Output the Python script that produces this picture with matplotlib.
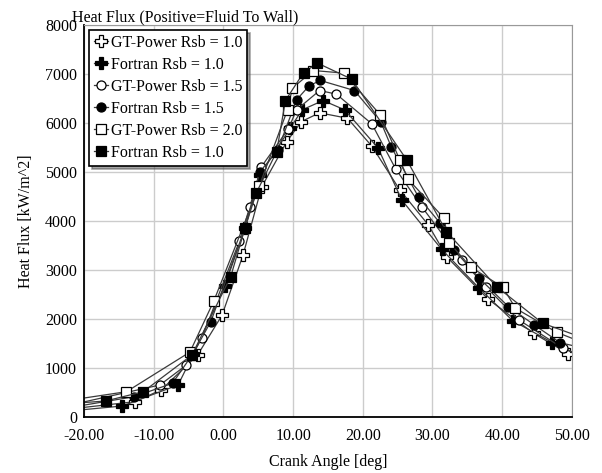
import matplotlib
matplotlib.use("Agg")
import matplotlib.pyplot as plt
import numpy as np

plt.rcParams['font.family'] = ['Liberation Serif', 'DejaVu Serif']

# crank angle [deg] / heat flux [kW/m^2]
gt10_x = [-22, -12.7, -8.9, -3.7, -0.2, 2.8, 5.5, 9.1, 11.2, 13.8, 17.8, 21.3, 25.3, 29.4, 32.1, 38.0, 44.5, 49.5, 52]
gt10_y = [170, 318, 560, 1271, 2080, 3300, 4700, 5625, 6033, 6210, 6100, 5530, 4640, 3924, 3265, 2408, 1714, 1292, 1100]

ft10_x = [-22, -14.5, -6.5, -4.3, 0.2, 3.1, 5.3, 9.6, 11.3, 14.3, 17.4, 22.2, 25.6, 31.3, 36.7, 41.5, 47.2, 52]
ft10_y = [130, 230, 659, 1290, 2680, 3857, 4950, 5900, 6271, 6461, 6271, 5490, 4430, 3428, 2633, 1971, 1522, 1200]

gt15_x = [-22, -9.1, -5.3, -3.1, 2.3, 3.8, 5.4, 9.3, 10.5, 13.8, 16.2, 21.3, 24.7, 28.5, 34.2, 37.7, 42.4, 48.7, 52]
gt15_y = [250, 659, 1067, 1612, 3590, 4298, 5100, 5878, 6271, 6665, 6592, 5985, 5070, 4286, 3210, 2653, 1986, 1408, 1200]

ft15_x = [-22, -12.8, -7.3, -4.4, -1.8, 3.1, 5.2, 7.8, 10.5, 12.3, 13.9, 18.8, 22.6, 24.1, 28.0, 31.1, 33.1, 36.7, 40.9, 44.6, 48.3, 52]
ft15_y = [200, 420, 693, 1290, 1951, 3857, 5000, 5450, 6476, 6761, 6870, 6665, 6020, 5510, 4490, 3959, 3414, 2837, 2257, 1884, 1522, 1400]

gt20_x = [-22, -13.9, -4.8, -1.35, 5.15, 9.2, 9.9, 12.9, 17.3, 22.5, 25.3, 26.5, 31.6, 32.4, 35.5, 40.1, 41.9, 47.8, 52]
gt20_y = [350, 522, 1330, 2380, 4720, 6271, 6714, 7073, 7020, 6169, 5251, 4857, 4070, 3563, 3061, 2653, 2224, 1735, 1500]

ft20_x = [-22, -16.9, -11.5, -4.5, 1.05, 3.1, 4.7, 7.65, 8.9, 11.5, 13.5, 18.4, 26.3, 32.0, 39.2, 45.8, 52]
ft20_y = [280, 332, 522, 1271, 2870, 3857, 4571, 5420, 6461, 7030, 7224, 6898, 5251, 3788, 2665, 1918, 1600]

series = [
    ("GT-Power Rsb = 1.0", gt10_x, gt10_y, 'P', 'white'),
    ("Fortran Rsb = 1.0", ft10_x, ft10_y, 'P', 'black'),
    ("GT-Power Rsb = 1.5", gt15_x, gt15_y, 'o', 'white'),
    ("Fortran Rsb = 1.5", ft15_x, ft15_y, 'o', 'black'),
    ("GT-Power Rsb = 2.0", gt20_x, gt20_y, 's', 'white'),
    ("Fortran Rsb = 1.0", ft20_x, ft20_y, 's', 'black'),
]

fig = plt.figure(figsize=(6.02, 4.73), dpi=100)
ax = fig.add_axes([0.1395, 0.1178, 0.8105, 0.8292])

for name, xs, ys, mk, fc in series:
    ax.plot(xs, ys, color='#3a3a3a', lw=0.9, marker=mk, markersize=8 if mk == 'P' else 6.5,
            markerfacecolor=fc, markeredgecolor='black', markeredgewidth=0.9, label=name)

ax.set_xlim(-20, 50)
ax.set_ylim(0, 8000)
ax.set_xticks(np.arange(-20, 51, 10))
ax.set_xticklabels(["%.2f" % v for v in np.arange(-20, 51, 10)])
ax.set_yticks(np.arange(0, 8001, 1000))
ax.grid(True, color='#cccccc', lw=1.0)
ax.set_axisbelow(True)
ax.tick_params(length=0, labelsize=11.5)
ax.tick_params(axis='x', pad=8)
ax.tick_params(axis='y', pad=5)
for s in ['top', 'right']:
    ax.spines[s].set_color('#999999')
for s in ['left', 'bottom']:
    ax.spines[s].set_linewidth(1.3)

ax.set_xlabel("Crank Angle [deg]", fontsize=11.5, labelpad=7)
ax.set_ylabel("Heat Flux [kW/m^2]", fontsize=11.5, labelpad=8)
ax.set_title("Heat Flux (Positive=Fluid To Wall)", fontsize=11.5, loc='left', x=-0.025, pad=2)

leg = ax.legend(loc='upper left', fontsize=11.5, fancybox=False, shadow=True, framealpha=1,
                edgecolor='black', handlelength=0.9, handletextpad=0.2, borderpad=0.3,
                labelspacing=0.38, borderaxespad=0.3)
leg.get_frame().set_linewidth(1.2)

fig.savefig("out.png", dpi=100)
